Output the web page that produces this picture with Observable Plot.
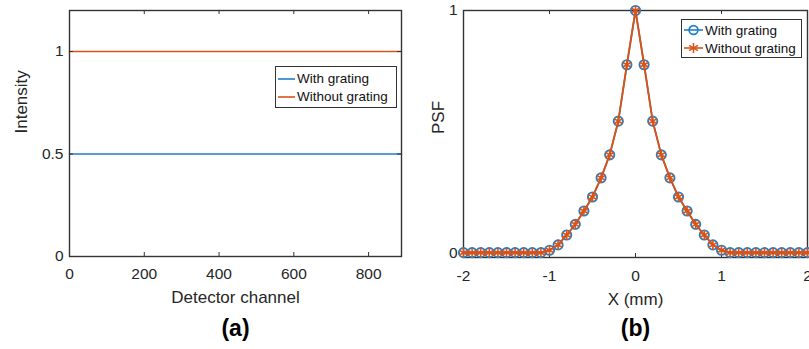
<!DOCTYPE html>
<html><head><meta charset="utf-8">
<script src="https://cdn.jsdelivr.net/npm/d3@7"></script>
<script src="https://cdn.jsdelivr.net/npm/@observablehq/plot@0.6"></script>
<style>
body{margin:0;background:#fff;}
#wrap{position:relative;width:809px;height:349px;overflow:hidden;font-family:"Liberation Sans",Arial,sans-serif;background:#fff;}
#wrap svg.main{position:absolute;top:0;}
.legend{position:absolute;background:#fff;border:1.5px solid #333;box-sizing:border-box;font-size:13.5px;color:#111;}
.legend .row{display:flex;align-items:center;height:18px;white-space:nowrap;}
.legend .row span{margin-left:2px;}
</style></head><body><div id="wrap"></div>
<script>
// ---- Panel (a) data ----
const channelEnds = [0, 888];
const intensityWithGrating = [0.5, 0.5];
const intensityWithoutGrating = [1, 1];
const channelTicks = [0, 200, 400, 600, 800];
const intensityTicks = [0, 0.5, 1];

// ---- Panel (b) data ----
const xMm = [-2,-1.9,-1.8,-1.7,-1.6,-1.5,-1.4,-1.3,-1.2,-1.1,-1,-0.9,-0.8,-0.7,-0.6,-0.5,-0.4,-0.3,-0.2,-0.1,0,
             0.1,0.2,0.3,0.4,0.5,0.6,0.7,0.8,0.9,1,1.1,1.2,1.3,1.4,1.5,1.6,1.7,1.8,1.9,2];
const psfWithGrating = [0,0,0,0,0,0,0,0,0,0,0.010,0.032,0.073,0.117,0.172,0.230,0.309,0.404,0.543,0.776,1,
                        0.776,0.543,0.404,0.309,0.230,0.172,0.117,0.073,0.032,0.010,0,0,0,0,0,0,0,0,0,0];
const psfWithoutGrating = [0,0,0,0,0,0,0,0,0,0,0.010,0.032,0.073,0.117,0.172,0.230,0.309,0.404,0.543,0.776,1,
                           0.776,0.543,0.404,0.309,0.230,0.172,0.117,0.073,0.032,0.010,0,0,0,0,0,0,0,0,0,0];
const xTicksMm = [-2, -1, 0, 1, 2];
const psfTicks = [0, 1];

const seriesNames = ["With grating", "Without grating"];
const blue = "#1f80c8", orange = "#D95319";
const axisColor = "#333";
const H = 349;
const style = {fontFamily: '"Liberation Sans", Arial, sans-serif', fontSize: "15.5px", color: "#262626", background: "transparent"};
const fmt = d => String(d);

// ---- Panel (a) ----
const A = {w: 410, top: 10, right: 9, bottom: 93, left: 69};
const aFH = H - A.top - A.bottom, aFW = A.w - A.left - A.right;
const plotA = Plot.plot({
  width: A.w, height: H, marginTop: A.top, marginRight: A.right, marginBottom: A.bottom, marginLeft: A.left,
  x: {domain: [0, 888]}, y: {domain: [0, 1.2]},
  style,
  marks: [
    Plot.lineY(intensityWithGrating, {x: channelEnds, stroke: blue, strokeWidth: 1.6}),
    Plot.lineY(intensityWithoutGrating, {x: channelEnds, stroke: orange, strokeWidth: 1.6}),
    Plot.frame({stroke: axisColor, strokeWidth: 1.4}),
    Plot.ruleX(channelTicks, {insetTop: aFH - 4, stroke: axisColor}),
    Plot.ruleX(channelTicks, {insetBottom: aFH - 4, stroke: axisColor}),
    Plot.ruleY(intensityTicks, {insetRight: aFW - 4, stroke: axisColor}),
    Plot.ruleY(intensityTicks, {insetLeft: aFW - 4, stroke: axisColor}),
    Plot.axisX(channelTicks, {tickSize: 0, tickPadding: 11, label: null, tickFormat: fmt}),
    Plot.axisY(intensityTicks, {tickSize: 0, tickPadding: 6, label: null, tickFormat: fmt}),
    Plot.text(["Detector channel"], {frameAnchor: "bottom", dy: 46, fontSize: 17}),
    Plot.text(["Intensity"], {frameAnchor: "left", dx: -48, rotate: -90, fontSize: 17}),
    Plot.text(["(a)"], {frameAnchor: "bottom", dy: 79, fontSize: 23, fontWeight: "bold", fill: "#000"})
  ]
});
plotA.classList.add("main");
plotA.style.left = "0px";

// ---- Panel (b) ----
const B = {w: 399, top: 10, right: 2, bottom: 92, left: 53};
const bFH = H - B.top - B.bottom, bFW = B.w - B.left - B.right;
const plotB = Plot.plot({
  width: B.w, height: H, marginTop: B.top, marginRight: B.right, marginBottom: B.bottom, marginLeft: B.left,
  x: {domain: [-2, 2]}, y: {domain: [-0.02, 1]},
  style,
  marks: [
    Plot.frame({stroke: axisColor, strokeWidth: 1.4}),
    Plot.ruleX(xTicksMm, {insetTop: bFH - 4, stroke: axisColor}),
    Plot.ruleX(xTicksMm, {insetBottom: bFH - 4, stroke: axisColor}),
    Plot.ruleY(psfTicks, {insetRight: bFW - 4, stroke: axisColor}),
    Plot.lineY(psfWithGrating, {x: xMm, stroke: blue, strokeWidth: 1.6}),
    Plot.dot(psfWithGrating, {x: xMm, y: d => d, r: 4.6, stroke: blue, strokeWidth: 1.9}),
    Plot.lineY(psfWithoutGrating, {x: xMm, stroke: orange, strokeWidth: 1.9}),
    Plot.dot(psfWithoutGrating, {x: xMm, y: d => d, r: 4.8, symbol: "asterisk", stroke: orange, strokeWidth: 1.6}),
    Plot.axisX(xTicksMm, {tickSize: 0, tickPadding: 12, label: null, tickFormat: fmt}),
    Plot.axisY(psfTicks, {tickSize: 0, tickPadding: 6, label: null, tickFormat: fmt}),
    Plot.text(["X (mm)"], {frameAnchor: "bottom", dy: 47, fontSize: 17}),
    Plot.text(["PSF"], {frameAnchor: "left", dx: -25, rotate: -90, fontSize: 17}),
    Plot.text(["(b)"], {frameAnchor: "bottom", dy: 78, fontSize: 23, fontWeight: "bold", fill: "#000"})
  ]
});
plotB.classList.add("main");
plotB.style.left = "410px";

const wrap = document.getElementById("wrap");
wrap.appendChild(plotA);
wrap.appendChild(plotB);

// ---- Legends ----
function legend(left, top, width, height, padTop, swatchFn) {
  const div = document.createElement("div");
  div.className = "legend";
  Object.assign(div.style, {left: left + "px", top: top + "px", width: width + "px", height: height + "px", paddingTop: padTop + "px"});
  seriesNames.forEach((name, i) => {
    const row = document.createElement("div");
    row.className = "row";
    row.appendChild(swatchFn(i));
    const s = document.createElement("span");
    s.textContent = name;
    row.appendChild(s);
    div.appendChild(row);
  });
  wrap.appendChild(div);
}
const NS = "http://www.w3.org/2000/svg";
function svgEl(tag, attrs) {
  const e = document.createElementNS(NS, tag);
  for (const k in attrs) e.setAttribute(k, attrs[k]);
  return e;
}
legend(275, 66, 122, 42, 2.5, i => {
  const s = svgEl("svg", {width: 18, height: 18});
  s.style.marginLeft = "1px";
  s.appendChild(svgEl("line", {x1: 1, x2: 18, y1: 9, y2: 9, stroke: i ? orange : blue, "stroke-width": 1.6}));
  return s;
});
legend(681, 19, 121, 39, 1, i => {
  const s = svgEl("svg", {width: 20, height: 18});
  s.style.marginLeft = "1px";
  const c = i ? orange : blue;
  s.appendChild(svgEl("line", {x1: 1, x2: 20, y1: 9, y2: 9, stroke: c, "stroke-width": 1.6}));
  if (i) {
    s.appendChild(svgEl("path", {d: d3.symbol(d3.symbolAsterisk, Math.PI * 4.8 * 4.8)(), transform: "translate(10.5,9)", stroke: c, "stroke-width": 1.5, fill: "none"}));
  } else {
    s.appendChild(svgEl("circle", {cx: 10.5, cy: 9, r: 4.4, stroke: c, "stroke-width": 1.7, fill: "none"}));
  }
  return s;
});
</script>
</body></html>
